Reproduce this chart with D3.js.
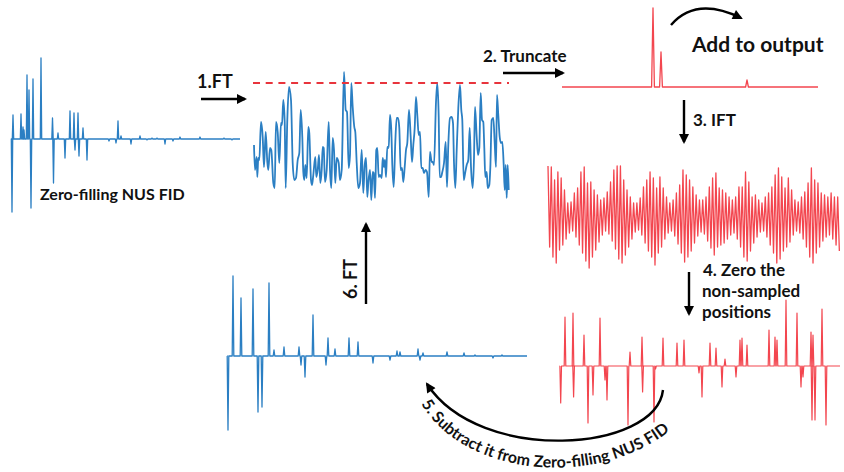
<!DOCTYPE html>
<html lang="en">
<head>
    <meta charset="UTF-8">
    <title>NUS reconstruction loop</title>
    <script src="https://cdn.jsdelivr.net/npm/d3@7"></script>
    <style>
        body { margin: 0; background: #fff; }
        text { font-family: Lato, "Open Sans", sans-serif; font-weight: 700; fill: #111; }
    </style>
</head>
<body>

<svg width="844" height="472"></svg>

<script>

    // ---- data ----
    // zero-filled NUS FID (point index, intensity)
    var fidSpikes = [[0,-73],[1,24],[9,25],[11,12],[12,9],[15,64],[17,49],[19,-69],[21,60],[29,81],
        [40.5,21],[41.5,-44],[46,6],[53,-19],[58,28],[62,26],[63,-11],[66,26],[67,-17],[71,11],[75,-21],
        [97,-2],[104,-4],[106,18],[109,3],[119,-5],[128,3],[135,-1],[140,1],[145,1],[153,-5],[161,-2],
        [168,2],[188,2],[212,1],[220,-1]];

    // spectrum after FT (frequency point, magnitude)
    var ftSpectrum = [[1,60],[2,35],[3.7,48],[4.3,28],[5.3,47],[6.3,45],[8,83],[9.7,68],[11,38],[12.7,73],
        [14.3,43],[15.3,35],[17,57],[18.3,55],[20.3,22],[21.7,17],[23,83],[24.7,73],[26.3,42],[28,82],
        [29,80],[30.3,105],[31.7,83],[32.7,17],[34.3,85],[36,118],[38,105],[39.7,42],[41.3,25],[43,27],
        [44.7,45],[46.3,52],[47.7,95],[49.3,68],[50.3,33],[51.3,25],[52.3,40],[53.7,27],[55.3,78],[56.3,72],
        [58,25],[59,20],[60.3,30],[62.3,48],[63.3,28],[64.7,35],[66,50],[67.3,22],[68.7,35],[69.7,58],
        [70.7,57],[72,23],[73.7,35],[75.7,83],[77,35],[78.3,17],[79.7,67],[81,55],[82.3,22],[83.7,47],
        [85.7,42],[87,25],[88.7,35],[91,133],[92.7,95],[94,93],[95.7,37],[97,50],[98.3,122],[99.7,98],
        [101.3,78],[102.3,73],[103.7,42],[105.3,17],[107,22],[108.7,55],[110.3,12],[111.7,40],[113,47],[114.3,8],
        [115.3,22],[117,35],[118.3,5],[119.7,33],[120.7,32],[122,7],[123.3,55],[124.3,57],[125.7,28],[127,30],
        [128.7,27],[129.7,47],[131,38],[132,45],[133,28],[134.3,58],[135.7,57],[137,90],[138.3,75],[139.3,40],
        [140.7,18],[142.3,63],[143.7,87],[145,87],[146.3,77],[147.7,35],[149,37],[150.3,23],[151.7,38],[153,55],
        [154.3,62],[156,95],[157.7,68],[159,43],[160.3,60],[161.7,77],[163,108],[164.3,90],[165.7,70],[167,73],
        [168.3,37],[169.7,37],[171,32],[172.7,35],[174,33],[175.7,8],[177,53],[178.7,43],[179.7,43],[181,40],
        [183,103],[184.3,122],[185.7,88],[186.7,28],[188,28],[189.3,33],[191,42],[192.7,63],[194,18],[195.3,60],
        [197,87],[198.7,88],[200,82],[201,42],[202.3,17],[203.7,55],[205.3,97],[207,120],[208.3,95],[209.3,85],
        [210.7,25],[212.3,33],[213.7,40],[215.3,45],[216.7,77],[218,38],[219.7,17],[221,47],[222,98],[223.7,68],
        [225,50],[226.3,57],[227.7,112],[229,85],[230.3,83],[231.3,57],[232.3,28],[233.7,33],[234.7,17],[236.3,20],
        [237.3,37],[238.7,85],[240.3,87],[241.7,62],[243,38],[244,110],[245.3,90],[246.7,68],[248,62],[249.3,63],
        [250.7,40],[251.7,15],[252.7,40],[253.7,7],[254.7,40],[255.7,15]];
    var threshold = 122;

    // peaks kept after truncation
    var truncSpikes = [[91,79],[99,35],[185,7]];

    // IFT of truncated spectrum: upper and lower swing of each cycle
    var iftTop = [51,50,37,45,39,27,14,15,24,29, 45,50,34,35,27,22,17,19,25,35,
        47,51,51,37,27,20,14,14,19,30, 37,45,39,29,40,29,20,14,17,24,
        32,47,42,37,30,22,17,17,20,30, 39,44,29,27,24,20,17,20,30,30,
        45,35,20,22,17,14,20,24,30,42, 49,40,29,39,27,17,15,20,25,34,
        49,37,34,24,22,20,24,20,20];
    var iftBottom = [30,40,46,33,28,22,16,14,20,28, 36,44,51,40,33,25,18,14,17,24,
        32,42,46,38,30,22,15,13,18,26, 34,40,48,36,30,22,16,14,19,27,
        36,45,40,34,26,19,15,17,24,31, 38,30,28,26,22,18,16,22,30,40,
        44,34,26,20,15,14,20,28,36,46, 42,34,30,25,18,14,16,22,30,40,
        46,36,30,24,20,18,22,28,34];

    // IFT with non-sampled points set to zero
    var zeroSpikes = [[0.7,-37],[5,49],[13,53],[13.6,-31],[24,31],[28,-57],[33,-29],[40,48],[45,-14],[47,-34],
        [68,-59],[70,14],[82,29],[82.6,-26],[94,-56],[95.5,-3],[103,28],[117,23],[124,26],[139,-7],
        [142,-31],[150,23],[156,18],[162,-21],[165,7],[176,-11],[180,26],[182,28],[187,21],[209,36],
        [215,29],[217,26],[226,66],[237,53],[241,-21],[243,-11],[251,34],[252,-54],[253,31],[255,-54],
        [262,57],[266,-59]];

    // residual FID after subtraction
    var residSpikes = [[1,-74],[6,80],[14,58],[26,67],[31,-56],[35,-51],[42,73],[47,6],[57,9],[72,9],
        [74,-9],[78,-21],[86,41],[99,-9],[101,18],[108,7],[122,18],[131,14],[146,-7],[163,-4],
        [170,5],[173,4],[191,7],[193,-4],[196,3],[220,4],[237,3],[248,1],[266,-2],[275,1]];

    var blue = '#2b7fc3';
    var red = '#f3464f';

    var svg = d3.select('svg');

    // arrow head
    svg.append('defs').append('marker')
        .attr('id', 'head')
        .attr('markerUnits', 'userSpaceOnUse')
        .attr('viewBox', '0 0 10 10')
        .attr('markerWidth', 11).attr('markerHeight', 10)
        .attr('refX', 8).attr('refY', 5)
        .attr('orient', 'auto')
        .append('path').attr('d', 'M0,0 L10,5 L0,10 z').attr('fill', '#000');

    // turns a list of spikes into a line along a zero baseline
    function spikeLine(spikes, n, hw) {
        var pts = [[0, 0]];
        spikes.forEach(function (s) {
            pts.push([s[0] - hw, 0], [s[0], s[1]], [s[0] + hw, 0]);
        });
        pts.push([n, 0]);
        return pts;
    }

    function drawTrace(pts, x, y, color, w, curve) {
        var line = d3.line()
            .curve(curve || d3.curveLinear)
            .x(function (d) { return x(d[0]); })
            .y(function (d) { return y(d[1]); });
        svg.append('path')
            .attr('d', line(pts))
            .attr('fill', 'none')
            .attr('stroke', color)
            .attr('stroke-width', w)
            .attr('stroke-linejoin', 'round');
    }

    // 1. NUS FID
    var x1 = d3.scaleLinear().domain([0, 228]).range([12, 240]);
    var y1 = d3.scaleLinear().domain([0, 100]).range([139, 39]);
    drawTrace(spikeLine(fidSpikes, 228, 0.7), x1, y1, blue, 1.3);

    // 2. FT spectrum
    var x2 = d3.scaleLinear().domain([0, 256]).range([253, 509]);
    var y2 = d3.scaleLinear().domain([0, 140]).range([205, 65]);
    drawTrace(ftSpectrum, x2, y2, blue, 1.8, d3.curveMonotoneX);
    svg.append('line')
        .attr('x1', x2(0)).attr('x2', x2(256))
        .attr('y1', y2(threshold)).attr('y2', y2(threshold))
        .attr('stroke', '#e8343c').attr('stroke-width', 2)
        .attr('stroke-dasharray', '7,5.7');

    // 3. truncated spectrum
    var x3 = d3.scaleLinear().domain([0, 256]).range([562, 818]);
    var y3 = d3.scaleLinear().domain([0, 100]).range([87, -13]);
    drawTrace(spikeLine(truncSpikes, 256, 1.4), x3, y3, red, 1.3);

    // 4. IFT
    var nCyc = iftTop.length;
    var x4 = d3.scaleLinear().domain([0, nCyc]).range([548, 841]);
    var y4 = d3.scaleLinear().domain([-60, 60]).range([277, 157]);
    var iftPts = [];
    iftTop.forEach(function (t, i) {
        iftPts.push([i, t], [i + 0.5, -iftBottom[i]]);
    });
    drawTrace(iftPts, x4, y4, red, 1.3);

    // 5. zeroed FID
    var x5 = d3.scaleLinear().domain([0, 280]).range([560, 840]);
    var y5 = d3.scaleLinear().domain([0, 100]).range([366, 266]);
    drawTrace(spikeLine(zeroSpikes, 280, 0.8), x5, y5, red, 1.2);

    // 6. residual FID
    var x6 = d3.scaleLinear().domain([0, 300]).range([227, 527]);
    var y6 = d3.scaleLinear().domain([0, 100]).range([356, 256]);
    drawTrace(spikeLine(residSpikes, 300, 0.8), x6, y6, blue, 1.3);

    // arrows
    function arrow(d) {
        svg.append('path')
            .attr('d', d)
            .attr('fill', 'none')
            .attr('stroke', '#000')
            .attr('stroke-width', 2.4)
            .attr('marker-end', 'url(#head)');
    }
    arrow('M201,99 L245,99');
    arrow('M503,73 L563,73');
    arrow('M671,25 Q696,-4 741,18');
    arrow('M684,100 L684,142');
    arrow('M689,272 L689,314');
    arrow('M366,304 L366,224');
    arrow('M663,390 C656,452 480,465 427,384');

    // labels
    function label(t, x, y, size) {
        return svg.append('text')
            .attr('x', x).attr('y', y)
            .attr('font-size', size)
            .text(t);
    }
    label('1.FT', 197, 88, 18);
    label('2. Truncate', 483, 62, 17);
    label('Add to output', 692, 52, 21);
    label('3. IFT', 693, 126, 17);
    label('4. Zero the', 703, 276, 17);
    label('non-sampled', 702, 297, 17);
    label('positions', 702, 318, 17);
    label('Zero-filling NUS FID', 40, 200, 16);
    label('6. FT', 0, 0, 18)
        .attr('x', null).attr('y', null)
        .attr('transform', 'translate(357,299) rotate(-90)');

    svg.append('path')
        .attr('id', 'arc5')
        .attr('d', 'M420,402 C468,486 628,490 690,410')
        .attr('fill', 'none');
    svg.append('text')
        .attr('font-size', 16)
        .append('textPath')
        .attr('href', '#arc5')
        .attr('startOffset', 2)
        .text('5. Subtract it from Zero-filling NUS FID');

</script>
</body>
</html>
